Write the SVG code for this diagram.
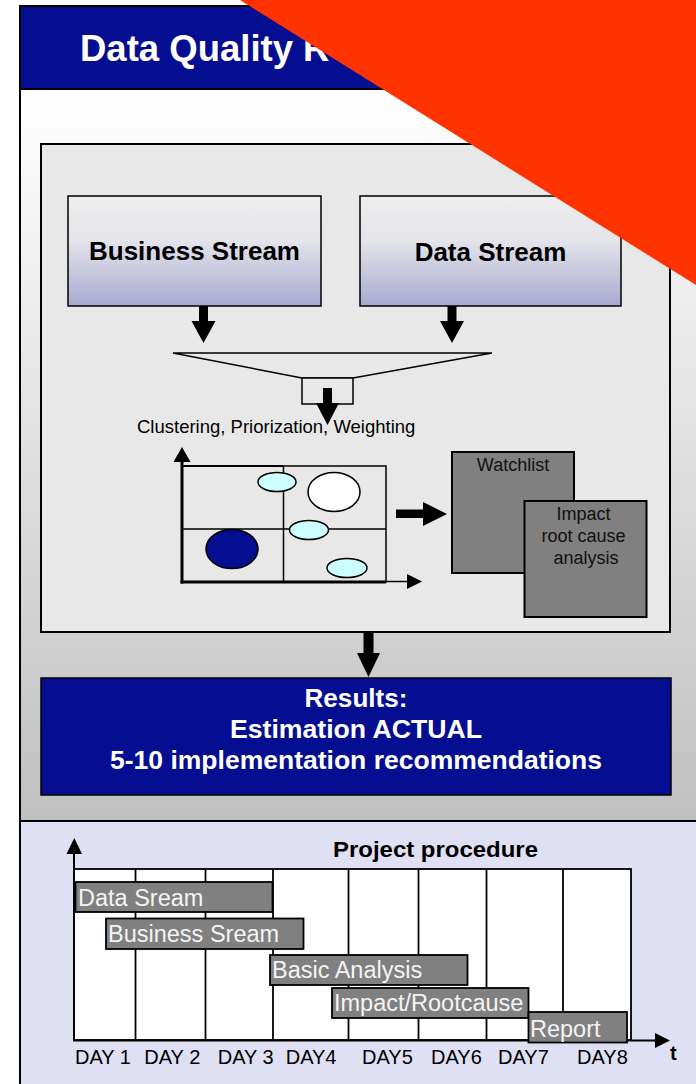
<svg xmlns="http://www.w3.org/2000/svg" width="696" height="1084" viewBox="0 0 696 1084">
  <defs>
    <linearGradient id="bodyFade" x1="0" y1="0" x2="0" y2="1">
      <stop offset="0" stop-color="#FFFFFF"/>
      <stop offset="1" stop-color="#C0C0C0"/>
    </linearGradient>
    <linearGradient id="streamFill" x1="0" y1="0" x2="0" y2="1">
      <stop offset="0" stop-color="#EEEEEE"/>
      <stop offset="0.4" stop-color="#E4E4EA"/>
      <stop offset="1" stop-color="#A9A9D1"/>
    </linearGradient>
    <style>
      .sans { font-family: "Liberation Sans", Arial, sans-serif; }
      .navy { fill: #050E91; }
      .frame { stroke: #000; stroke-width: 2; }
      .stream { fill: url(#streamFill); stroke: #000; stroke-width: 1.5; }
      .stream-label { font-size: 26px; font-weight: bold; fill: #000; text-anchor: middle; }
      .arrow { fill: #000; }
      .bubble { fill: #CCFFFF; stroke: #000; stroke-width: 1.5; }
      .grey-box { fill: #808080; stroke: #000; stroke-width: 2; }
      .grey-label { font-size: 18px; fill: #111; text-anchor: middle; }
      .result-label { font-size: 25px; font-weight: bold; fill: #FFF; text-anchor: middle; }
      .bar { fill: #808080; stroke: #000; stroke-width: 1.8; }
      .bar-label { font-size: 23.5px; fill: #F4F4F4; }
      .day { font-size: 20px; fill: #000; }
      .thin { stroke: #000; stroke-width: 1.5; fill: none; }
    </style>
  </defs>

  <!-- page background and slide frame -->
  <g id="frame">
    <rect x="0" y="0" width="696" height="1084" fill="#FFFFFF"/>
    <rect x="20" y="89" width="690" height="732" fill="url(#bodyFade)"/>
    <rect x="20" y="821" width="690" height="270" fill="#E0E0F5"/>
    <rect x="20" y="6" width="690" height="83" class="navy frame"/>
    <line x1="20" y1="6" x2="20" y2="1084" class="frame"/>
    <line x1="20" y1="821" x2="700" y2="821" class="frame"/>
  </g>

  <g id="title">
    <text x="80" y="61" class="sans" font-size="36.5" font-weight="bold" fill="#FFFFFF">Data Quality R</text>
  </g>

  <!-- analysis panel -->
  <g id="panel">
    <rect x="41" y="144" width="629" height="488" fill="#E8E8E8" stroke="#000" stroke-width="2"/>
  </g>

  <g id="business-stream">
    <rect x="68" y="196" width="253" height="110" class="stream"/>
    <text x="194.5" y="260" class="sans stream-label">Business Stream</text>
  </g>

  <g id="data-stream">
    <rect x="360" y="196" width="261" height="110" class="stream"/>
    <text x="490.5" y="261" class="sans stream-label">Data Stream</text>
  </g>

  <g id="funnel">
    <polygon points="173,353 492,353 353,378 302,378" fill="#E8E8E8" stroke="#000" stroke-width="1.5"/>
    <rect x="302" y="378" width="51" height="26" fill="#E8E8E8" stroke="#000" stroke-width="1.5"/>
  </g>

  <g id="clustering-label">
    <text x="137" y="433" class="sans" font-size="18.5" fill="#000">Clustering, Priorization, Weighting</text>
  </g>

  <!-- portfolio matrix -->
  <g id="matrix">
    <rect x="182" y="466" width="204" height="116" fill="none" stroke="#000" stroke-width="1.5"/>
    <line x1="182" y1="466" x2="284" y2="466" stroke="#000" stroke-width="2.2"/>
    <line x1="283.5" y1="466" x2="283.5" y2="582" stroke="#000" stroke-width="1.5"/>
    <line x1="182" y1="529" x2="386" y2="529" stroke="#000" stroke-width="1.5"/>
    <line x1="182" y1="462" x2="182" y2="583.5" stroke="#000" stroke-width="3"/>
    <line x1="180.5" y1="582" x2="386" y2="582" stroke="#000" stroke-width="3"/>
    <line x1="386" y1="581.5" x2="408" y2="581.5" stroke="#000" stroke-width="1.5"/>
    <polygon points="173.5,462 190.5,462 182,447" class="arrow"/>
    <polygon points="407,574 407,589 422,581.5" class="arrow"/>
    <ellipse cx="277" cy="482" rx="19" ry="9.5" class="bubble"/>
    <ellipse cx="334" cy="492" rx="26" ry="19.5" fill="#FFFFFF" stroke="#000" stroke-width="1.5"/>
    <ellipse cx="309" cy="530" rx="19.5" ry="9.5" class="bubble"/>
    <ellipse cx="232" cy="549" rx="26" ry="19.5" class="navy" stroke="#000" stroke-width="1.5"/>
    <ellipse cx="347" cy="568" rx="20" ry="9.5" class="bubble"/>
  </g>

  <g id="watchlist">
    <rect x="452" y="452" width="122" height="121" class="grey-box"/>
    <text x="513" y="471" class="sans grey-label">Watchlist</text>
  </g>

  <g id="impact-analysis">
    <rect x="524.5" y="501" width="122" height="116" class="grey-box"/>
    <text class="sans grey-label">
      <tspan x="586" y="520">Impact</tspan>
      <tspan x="586" y="542">root cause</tspan>
      <tspan x="586" y="564">analysis</tspan>
    </text>
  </g>

  <g id="results">
    <rect x="41" y="678" width="630" height="117" class="navy" stroke="#000" stroke-width="1.5"/>
    <text x="356" y="707" class="sans result-label" textLength="103" lengthAdjust="spacingAndGlyphs">Results:</text>
    <text x="356" y="738" class="sans result-label" textLength="252" lengthAdjust="spacingAndGlyphs">Estimation ACTUAL</text>
    <text x="356" y="769" class="sans result-label" textLength="492" lengthAdjust="spacingAndGlyphs">5-10 implementation recommendations</text>
  </g>

  <!-- block arrows between the stages -->
  <g id="connectors">
    <path d="M199,306 H208 V321 H215.5 L203.5,343 L191.5,321 H199 Z" class="arrow"/>
    <path d="M447.5,306 H456.5 V321 H464 L452,343 L440,321 H447.5 Z" class="arrow"/>
    <path d="M323,388 H332 V403 H339 L327.5,425 L316,403 H323 Z" class="arrow"/>
    <path d="M396,509.5 H423 V502 L447,514 L423,526 V518 H396 Z" class="arrow"/>
    <path d="M363.5,632 H373.5 V653 H380 L368.5,677 L357,653 H363.5 Z" class="arrow"/>
  </g>

  <!-- project schedule -->
  <g id="schedule-grid">
    <rect x="74" y="869" width="557" height="171" fill="#FFFFFF" stroke="#000" stroke-width="1.8"/>
    <g stroke="#000" stroke-width="1.8">
      <line x1="135.5" y1="869" x2="135.5" y2="1040"/>
      <line x1="205.5" y1="869" x2="205.5" y2="1040"/>
      <line x1="273" y1="869" x2="273" y2="1040"/>
      <line x1="348.5" y1="869" x2="348.5" y2="1040"/>
      <line x1="418.5" y1="869" x2="418.5" y2="1040"/>
      <line x1="486.5" y1="869" x2="486.5" y2="1040"/>
      <line x1="563" y1="869" x2="563" y2="1040"/>
    </g>
    <line x1="74" y1="852" x2="74" y2="1041" stroke="#000" stroke-width="2"/>
    <polygon points="66.5,854 82,854 74.3,838" class="arrow"/>
    <line x1="73" y1="1040.5" x2="656" y2="1040.5" stroke="#000" stroke-width="2"/>
    <polygon points="655,1033 655,1048 670,1040.5" class="arrow"/>
    <text x="333" y="857" class="sans" font-size="22" font-weight="bold" fill="#000" textLength="205" lengthAdjust="spacingAndGlyphs">Project procedure</text>
    <text x="670" y="1060" class="sans" font-size="20" font-weight="bold" fill="#000">t</text>
  </g>

  <g id="bar-data-stream">
    <rect x="75.5" y="882" width="197" height="30" class="bar"/>
    <text x="78" y="906" class="sans bar-label">Data Sream</text>
  </g>
  <g id="bar-business-stream">
    <rect x="106" y="918.5" width="197.5" height="30.5" class="bar"/>
    <text x="108" y="942" class="sans bar-label">Business Sream</text>
  </g>
  <g id="bar-basic-analysis">
    <rect x="270" y="955" width="197.5" height="30" class="bar"/>
    <text x="272" y="978" class="sans bar-label">Basic Analysis</text>
  </g>
  <g id="bar-impact">
    <rect x="332" y="988" width="196.5" height="30" class="bar"/>
    <text x="334" y="1011" class="sans bar-label">Impact/Rootcause</text>
  </g>
  <g id="bar-report">
    <rect x="528.5" y="1012" width="98.5" height="30.5" class="bar"/>
    <text x="530" y="1037" class="sans bar-label">Report</text>
  </g>

  <g id="day-labels" class="sans">
    <text x="75" y="1064" class="day">DAY 1</text>
    <text x="144.3" y="1064" class="day">DAY 2</text>
    <text x="217.7" y="1064" class="day">DAY 3</text>
    <text x="285.7" y="1064" class="day">DAY4</text>
    <text x="362" y="1064" class="day">DAY5</text>
    <text x="431" y="1064" class="day">DAY6</text>
    <text x="498" y="1064" class="day">DAY7</text>
    <text x="577" y="1064" class="day">DAY8</text>
  </g>

  <!-- corner banner -->
  <polygon id="corner-banner" points="240,0 696,0 696,285" fill="#FF3300"/>
</svg>
